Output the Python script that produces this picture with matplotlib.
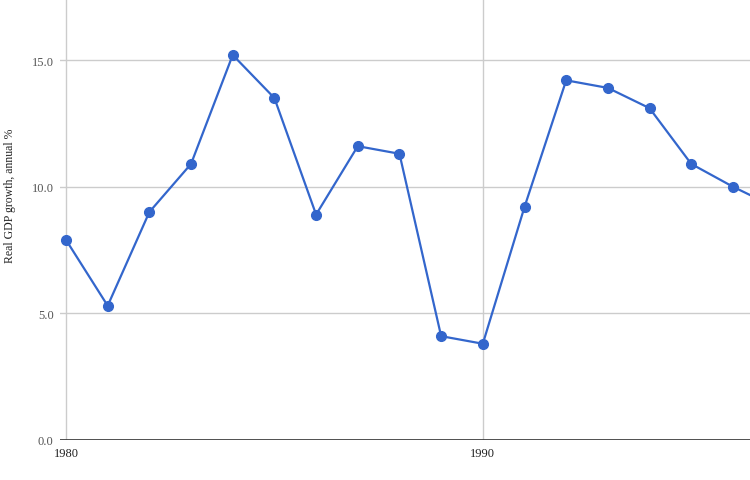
import matplotlib
matplotlib.use("Agg")
import matplotlib.pyplot as plt

years = list(range(1980, 1998))
growth = [7.9, 5.3, 9.0, 10.9, 15.2, 13.5, 8.9, 11.6, 11.3, 4.1, 3.8, 9.2, 14.2, 13.9, 13.1, 10.9, 10.0, 9.2]
yticks = [0.0, 5.0, 10.0, 15.0]
xticks = [1980, 1990]

plt.rcParams['font.family'] = ['Liberation Serif', 'DejaVu Serif']

fig = plt.figure(figsize=(7.5, 4.81), dpi=100)
ax = fig.add_axes([60/750, 40/481, 690/750, 441/481])

ax.plot(years, growth, color="#3366cc", lw=1.6, marker="o", ms=7, zorder=3, clip_on=True)

ax.set_xlim(1980 - 6/41.7, 1996.41)
ax.set_ylim(0, 441/25.33)

ax.set_yticks(yticks)
ax.set_yticklabels(["%.1f" % v for v in yticks])
ax.set_xticks(xticks)
ax.set_xticklabels([str(v) for v in xticks])
ax.grid(True, color="#cccccc", lw=1)
ax.set_axisbelow(True)
ax.axhline(0, color="#333333", lw=1.2, zorder=2)

for s in ax.spines.values():
    s.set_visible(False)
ax.tick_params(length=0)
ax.tick_params(axis="y", colors="#555555", labelsize=9, pad=4.5)
ax.tick_params(axis="x", colors="#222222", labelsize=9, pad=5)

fig.text(10/750, 1 - 196/481, "Real GDP growth, annual %", rotation=90,
         va="center", ha="center", fontsize=8.5, color="#222222")

fig.savefig("out.png", dpi=100)
